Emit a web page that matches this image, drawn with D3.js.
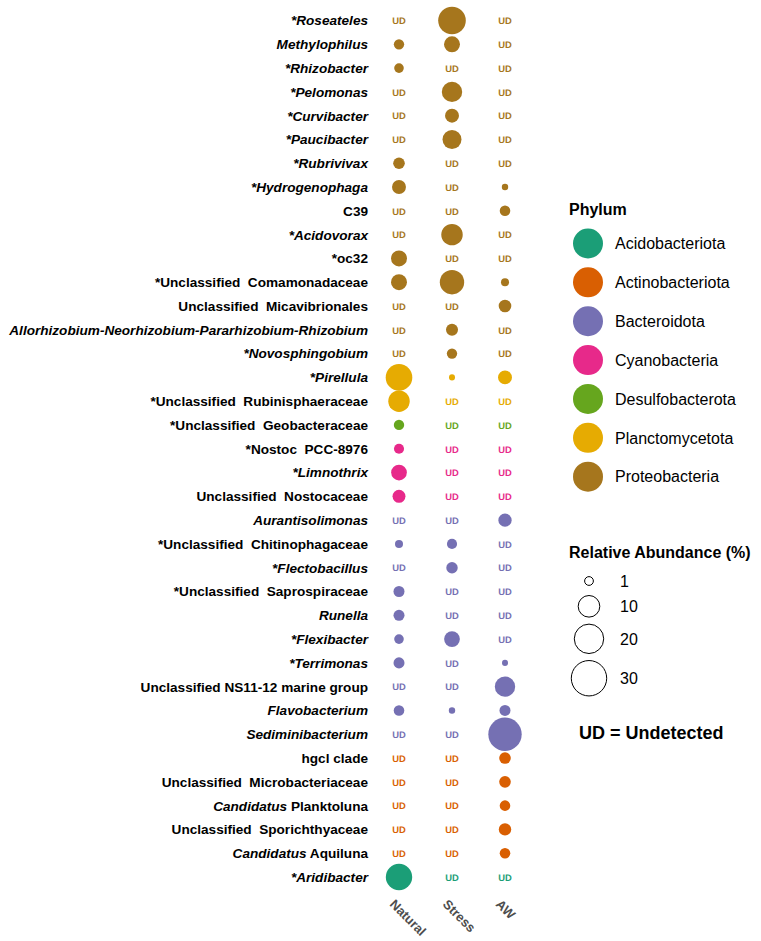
<!DOCTYPE html>
<html>
<head>
<meta charset="utf-8">
<script src="https://cdn.jsdelivr.net/npm/d3@7"></script>
<style>
  body { margin: 0; background: #fff; }
  svg { display: block; font-family: "Liberation Sans", Arial, sans-serif; }
  .taxon { font-size: 13.6px; font-weight: bold; fill: #000; }
  .ud { font-size: 9.4px; font-weight: bold; text-rendering: geometricPrecision; }
  .xlab { font-size: 13px; font-weight: bold; fill: #4d4d4d; }
  .leg-title { font-size: 16px; font-weight: bold; }
  .leg-label { font-size: 16px; }
</style>
</head>
<body>
<div id="chart"></div>
<script>
  // --- Data. "_..._" marks italic parts of a label, null = UD ---
  const taxa = [
    "_*Roseateles_", "_Methylophilus_", "_*Rhizobacter_", "_*Pelomonas_", "_*Curvibacter_",
    "_*Paucibacter_", "_*Rubrivivax_", "_*Hydrogenophaga_", "C39", "_*Acidovorax_", "*oc32",
    "*Unclassified  Comamonadaceae", "Unclassified  Micavibrionales",
    "_Allorhizobium-Neorhizobium-Pararhizobium-Rhizobium_", "_*Novosphingobium_",
    "_*Pirellula_", "*Unclassified  Rubinisphaeraceae", "*Unclassified  Geobacteraceae",
    "*Nostoc  PCC-8976", "_*Limnothrix_", "Unclassified  Nostocaceae", "_Aurantisolimonas_",
    "*Unclassified  Chitinophagaceae", "_*Flectobacillus_", "*Unclassified  Saprospiraceae",
    "_Runella_", "_*Flexibacter_", "_*Terrimonas_", "Unclassified NS11-12 marine group",
    "_Flavobacterium_", "_Sediminibacterium_", "hgcl clade", "Unclassified  Microbacteriaceae",
    "_Candidatus_ Planktoluna", "Unclassified  Sporichthyaceae", "_Candidatus_ Aquiluna",
    "_*Aridibacter_"
  ];

  const taxonPhylum = [
    "Proteobacteria", "Proteobacteria", "Proteobacteria", "Proteobacteria", "Proteobacteria",
    "Proteobacteria", "Proteobacteria", "Proteobacteria", "Proteobacteria", "Proteobacteria",
    "Proteobacteria", "Proteobacteria", "Proteobacteria", "Proteobacteria", "Proteobacteria",
    "Planctomycetota", "Planctomycetota", "Desulfobacterota",
    "Cyanobacteria", "Cyanobacteria", "Cyanobacteria",
    "Bacteroidota", "Bacteroidota", "Bacteroidota", "Bacteroidota", "Bacteroidota",
    "Bacteroidota", "Bacteroidota", "Bacteroidota", "Bacteroidota", "Bacteroidota",
    "Actinobacteriota", "Actinobacteriota", "Actinobacteriota", "Actinobacteriota", "Actinobacteriota",
    "Acidobacteriota"
  ];

  const naturalValues = [
    null, 1.6, 1.3, null, null, null, 2.2, 3.5, null, null, 4.9, 4.9, null, null, null,
    16.0, 9.8, 1.6, 1.5, 4.7, 2.9, null, 0.77, null, 1.9, 1.9, 1.3, 1.9, null, 1.7, null,
    null, null, null, null, null, 15.7
  ];
  const stressValues = [
    17.4, 4.9, null, 8.7, 3.5, 7.4, null, null, null, 9.8, null, 13.1, null, 2.4, 1.6,
    0.29, null, null, null, null, null, null, 1.5, 2.1, null, null, 4.7, null, null, 0.37, null,
    null, null, null, null, null, null
  ];
  const awValues = [
    null, null, null, null, null, null, null, 0.37, 1.7, null, null, 0.77, 2.7, null, null,
    3.5, null, null, null, null, null, 3.1, null, null, null, null, null, 0.29, 8.7, 1.9, 26.4,
    2.2, 2.2, 1.7, 2.6, 1.7, null
  ];

  const treatments = ["Natural", "Stress", "AW"];
  const phyla = ["Acidobacteriota", "Actinobacteriota", "Bacteroidota", "Cyanobacteria",
                 "Desulfobacterota", "Planctomycetota", "Proteobacteria"];
  const sizeBreaks = [1, 10, 20, 30];

  // long table for drawing
  const seriesByTreatment = { Natural: naturalValues, Stress: stressValues, AW: awValues };
  const cells = [];
  taxa.forEach((t, i) => {
    treatments.forEach(tr => {
      cells.push({ taxon: t, treatment: tr, phylum: taxonPhylum[i], value: seriesByTreatment[tr][i] });
    });
  });

  // --- Layout ---
  const width = 761, height = 941;
  const svg = d3.select("#chart").append("svg")
    .attr("width", width).attr("height", height);

  const y = d3.scalePoint().domain(taxa).range([20.5, 877]);
  const x = d3.scalePoint().domain(treatments).range([399, 505]);
  const color = d3.scaleOrdinal().domain(phyla).range(d3.schemeDark2);
  const r = d3.scaleSqrt().domain([0, 30]).range([1.4, 17.7]);

  // Row labels (with italic segments)
  const labels = svg.append("g").selectAll("text")
    .data(taxa)
    .join("text")
      .attr("class", "taxon")
      .attr("x", 368)
      .attr("y", d => y(d))
      .attr("dy", "0.36em")
      .attr("text-anchor", "end")
      .attr("xml:space", "preserve");
  labels.each(function(d) {
    const parts = d.split("_");
    const el = d3.select(this);
    parts.forEach((p, k) => {
      if (!p) return;
      el.append("tspan").text(p).attr("font-style", k % 2 ? "italic" : "normal");
    });
  });

  // Bubbles
  svg.append("g").selectAll("circle")
    .data(cells.filter(d => d.value != null))
    .join("circle")
      .attr("cx", d => x(d.treatment))
      .attr("cy", d => y(d.taxon))
      .attr("r", d => r(d.value))
      .attr("fill", d => color(d.phylum));

  // UD markers
  svg.append("g").selectAll("text")
    .data(cells.filter(d => d.value == null))
    .join("text")
      .attr("class", "ud")
      .attr("x", d => x(d.treatment))
      .attr("y", d => y(d.taxon))
      .attr("dy", "0.4em")
      .attr("text-anchor", "middle")
      .attr("fill", d => color(d.phylum))
      .text("UD");

  // X axis labels, rotated
  svg.append("g").selectAll("text")
    .data(treatments)
    .join("text")
      .attr("class", "xlab")
      .attr("transform", d => `translate(${x(d) - 10},${905}) rotate(45)`)
      .text(d => d);

  // Phylum legend
  const lg = svg.append("g").attr("transform", "translate(569,0)");
  lg.append("text").attr("class", "leg-title").attr("x", 0).attr("y", 215).text("Phylum");
  const ly = d3.scalePoint().domain(phyla).range([243.5, 476.7]);
  lg.selectAll("circle")
    .data(phyla)
    .join("circle")
      .attr("cx", 19).attr("cy", d => ly(d)).attr("r", 15)
      .attr("fill", d => color(d));
  lg.selectAll("text.leg-label")
    .data(phyla)
    .join("text")
      .attr("class", "leg-label")
      .attr("x", 46).attr("y", d => ly(d)).attr("dy", "0.36em")
      .text(d => d);

  // Size legend
  const sg = svg.append("g").attr("transform", "translate(569,0)");
  sg.append("text").attr("class", "leg-title").attr("x", 0).attr("y", 558).text("Relative Abundance (%)");
  let cy = 581 - Math.max(22, 2 * r(sizeBreaks[0]) + 7) / 2;
  const sizeKeys = sizeBreaks.map(v => {
    const h = Math.max(22, 2 * r(v) + 7);
    const k = { v, cy: cy + h / 2 };
    cy += h;
    return k;
  });
  sg.selectAll("circle")
    .data(sizeKeys)
    .join("circle")
      .attr("cx", 20).attr("cy", d => d.cy).attr("r", d => r(d.v))
      .attr("fill", "none").attr("stroke", "#000").attr("stroke-width", 1);
  sg.selectAll("text.leg-label")
    .data(sizeKeys)
    .join("text")
      .attr("class", "leg-label")
      .attr("x", 51).attr("y", d => d.cy).attr("dy", "0.36em")
      .text(d => d.v);

  svg.append("text")
    .attr("x", 579).attr("y", 739)
    .attr("font-size", 18).attr("font-weight", "bold")
    .text("UD = Undetected");
</script>
</body>
</html>
